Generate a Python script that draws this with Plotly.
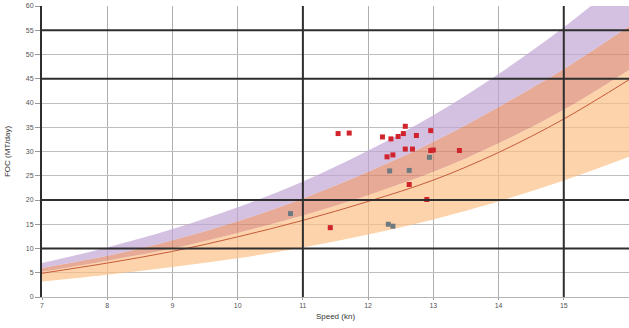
import plotly.graph_objects as go

# Speed grid for the reference curves (kn)
speeds = [7, 8, 9, 10, 11, 12, 13, 14, 15, 16]

# Expected FOC (MT/day) and the two tolerance bands
foc_expected = [4.9, 7.0, 9.4, 12.4, 15.8, 19.7, 24.1, 29.8, 36.7, 44.8]
orange_lower = [3.2, 4.6, 6.2, 8.0, 10.2, 12.9, 16.0, 19.7, 24.0, 28.9]
orange_upper = [6.0, 8.5, 11.7, 15.6, 20.3, 25.8, 32.0, 39.2, 47.0, 55.8]
purple_lower = [5.2, 7.5, 10.0, 13.2, 16.8, 21.0, 25.8, 31.7, 38.6, 46.8]
purple_upper = [7.0, 10.2, 14.0, 18.5, 23.8, 30.2, 37.5, 46.0, 55.6, 66.5]

# Observed daily reports
red_speed = [11.54, 11.71, 12.22, 12.35, 12.46, 12.54, 12.57, 12.74, 12.96,
             12.57, 12.68, 12.29, 12.38, 12.96, 13.00, 13.40, 12.63, 12.90, 11.42]
red_foc = [33.7, 33.8, 33.0, 32.6, 33.1, 33.7, 35.2, 33.3, 34.3,
           30.5, 30.5, 28.9, 29.3, 30.2, 30.3, 30.2, 23.2, 20.1, 14.3]
gray_speed = [12.33, 12.63, 12.94, 12.31, 12.38, 10.81]
gray_foc = [26.0, 26.1, 28.8, 15.0, 14.6, 17.2]

# Emphasised grid lines
bold_x = [11, 15]
bold_y = [10, 20, 45, 55]

x_ticks = list(range(7, 16))
y_ticks = list(range(0, 61, 5))

fig = go.Figure()

# Bands drawn as stacked regions: light orange, overlap, purple
fig.add_trace(go.Scatter(x=speeds, y=orange_lower, mode="lines", line=dict(width=0, shape="spline"),
                         hoverinfo="skip", showlegend=False))
fig.add_trace(go.Scatter(x=speeds, y=purple_lower, mode="lines", line=dict(width=0, shape="spline"),
                         fill="tonexty", fillcolor="rgba(251,192,134,0.7)", hoverinfo="skip", showlegend=False))
fig.add_trace(go.Scatter(x=speeds, y=orange_upper, mode="lines", line=dict(width=0, shape="spline"),
                         fill="tonexty", fillcolor="rgba(218,130,102,0.68)", hoverinfo="skip", showlegend=False))
fig.add_trace(go.Scatter(x=speeds, y=purple_upper, mode="lines", line=dict(width=0, shape="spline"),
                         fill="tonexty", fillcolor="rgba(194,166,214,0.7)", hoverinfo="skip", showlegend=False))

fig.add_trace(go.Scatter(x=speeds, y=foc_expected, mode="lines",
                         line=dict(color="#c65a3c", width=1, shape="spline"), showlegend=False))

fig.add_trace(go.Scatter(x=gray_speed, y=gray_foc, mode="markers",
                         marker=dict(symbol="square", size=5, color="#6f7a80"), showlegend=False))
fig.add_trace(go.Scatter(x=red_speed, y=red_foc, mode="markers",
                         marker=dict(symbol="square", size=5, color="#d0232b"), showlegend=False))

shapes = []
for xv in bold_x:
    shapes.append(dict(type="line", xref="x", yref="paper", x0=xv, x1=xv, y0=0, y1=1,
                       line=dict(color="#2e2e2e", width=2), layer="above"))
for yv in bold_y:
    shapes.append(dict(type="line", xref="paper", yref="y", x0=0, x1=1, y0=yv, y1=yv,
                       line=dict(color="#2e2e2e", width=2), layer="above"))

fig.update_layout(
    width=629, height=328,
    margin=dict(l=42, r=0, t=6, b=31),
    paper_bgcolor="white", plot_bgcolor="white",
    font=dict(family="Arial, Liberation Sans, sans-serif", size=7, color="#555"),
    shapes=shapes,
    xaxis=dict(range=[7, 16], tickvals=x_ticks, showgrid=True, gridcolor="#b0b0b0", gridwidth=1,
               zeroline=False, showline=True, linecolor="#b5b5b5", ticks="outside", ticklen=2,
               tickcolor="#999", tickfont=dict(size=7, color="#555"),
               title=dict(text="Speed (kn)", font=dict(size=8, color="#333"), standoff=4)),
    yaxis=dict(range=[0, 60], tickvals=y_ticks, showgrid=True, gridcolor="#bdbdbd", gridwidth=1,
               zeroline=False, showline=True, linecolor="#2e2e2e", linewidth=2, ticks="outside",
               ticklen=5, tickcolor="#999", tickfont=dict(size=7, color="#555"),
               title=dict(text="FOC (MT/day)", font=dict(size=8, color="#333"), standoff=14)),
)

fig.write_html("out.html")
